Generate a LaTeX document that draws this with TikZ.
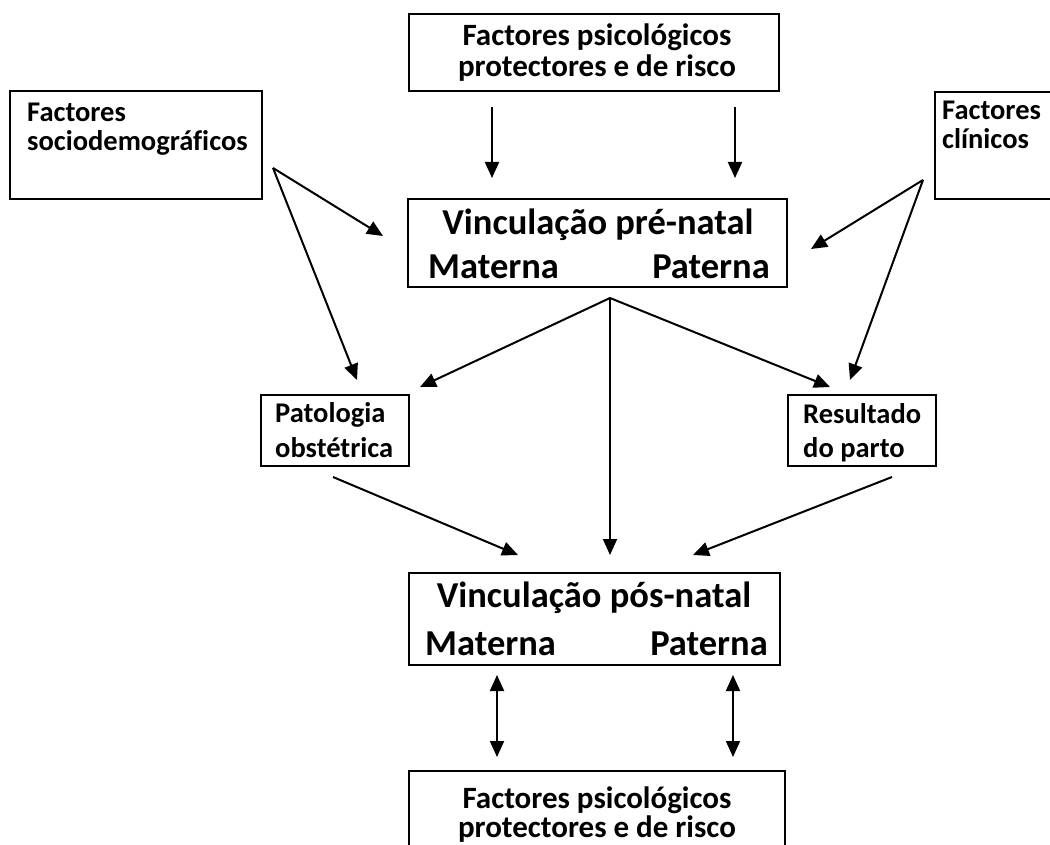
\documentclass[tikz,border=0pt]{standalone}
\usepackage{fontspec}
\setmainfont{Carlito}[Ligatures=NoCommon]
\usetikzlibrary{arrows.meta}
\tikzset{
  bigbox/.style={draw, line width=2pt, inner sep=0pt},
  smallbox/.style={draw, line width=1.5pt, inner sep=0pt},
  txt/.style={inner sep=0pt, font=\bfseries},
  midtxt/.style={txt, font=\bfseries\fontsize{31}{36}\selectfont},
  smtxt/.style={txt, font=\bfseries\fontsize{28.5}{33}\selectfont},
  bigtxt/.style={txt, font=\bfseries\fontsize{36.5}{44}\selectfont},
  arr/.style={line width=2pt, -{Triangle[length=16pt,width=14pt]}},
  darr/.style={line width=2pt, {Triangle[length=16pt,width=14pt]}-{Triangle[length=16pt,width=14pt]}}
}
\begin{document}
\begin{tikzpicture}[x=1pt,y=-1pt]
\useasboundingbox (0,0) rectangle (1050,845);
\clip (0,0) rectangle (1050,845);
% boxes
\node[bigbox, minimum width=370pt, minimum height=77pt] (top) at (594,53) {};
\node[bigbox, minimum width=252pt, minimum height=108pt] (socio) at (136,145) {};
\node[bigbox, minimum width=125pt, minimum height=107pt] (clin) at (997.5,145.5) {};
\node[bigbox, minimum width=379pt, minimum height=88pt] (pre) at (597.5,243) {};
\node[smallbox, minimum width=148pt, minimum height=71pt] (pat) at (335,430.5) {};
\node[smallbox, minimum width=148pt, minimum height=71pt] (res) at (862,430.5) {};
\node[bigbox, minimum width=371pt, minimum height=92pt] (pos) at (594.5,619) {};
\node[bigbox, minimum width=376pt, minimum height=90pt] (bot) at (597,816) {};
% texts
\node[midtxt, anchor=base] (topa) at (597,46) {Factores psicológicos};
\node[midtxt, anchor=base] (topb) at (597,77) {protectores e de risco};
\node[smtxt, anchor=base west] (socioa) at (27,122) {Factores};
\node[smtxt, anchor=base west] (sociob) at (27,151) {sociodemográficos};
\node[smtxt, anchor=base west] (clina) at (942,120) {Factores};
\node[smtxt, anchor=base west] (clinb) at (942,149) {clínicos};
\node[bigtxt, anchor=base] (prea) at (598,235) {Vinculação pré-natal};
\node[bigtxt, anchor=base west] (preb) at (428,279) {Materna};
\node[bigtxt, anchor=base east] (prec) at (770,279) {Paterna};
\node[smtxt, anchor=base west] (pata) at (275,422) {Patologia};
\node[smtxt, anchor=base west] (patb) at (275,457) {obstétrica};
\node[smtxt, anchor=base west] (resa) at (803,423) {Resultado};
\node[smtxt, anchor=base west] (resb) at (803,457) {do parto};
\node[bigtxt, anchor=base] (posa) at (594,607) {Vinculação pós-natal};
\node[bigtxt, anchor=base west] (posb) at (425,655) {Materna};
\node[bigtxt, anchor=base east] (posc) at (768,655) {Paterna};
\node[midtxt, anchor=base] (bota) at (597,808) {Factores psicológicos};
\node[midtxt, anchor=base] (botb) at (597,837) {protectores e de risco};
% connector points
\coordinate (t1s) at (492,107); \coordinate (t1e) at (492,178);
\coordinate (t2s) at (735,107); \coordinate (t2e) at (735,178);
\coordinate (S) at (273,168);
\coordinate (Spre) at (383,236); \coordinate (Spat) at (357,380);
\coordinate (C) at (923,180);
\coordinate (Cpre) at (811,249); \coordinate (Cres) at (850,380);
\coordinate (P) at (610,298);
\coordinate (Ppat) at (420,387); \coordinate (Pres) at (830,387); \coordinate (Ppos) at (610,555);
\coordinate (pats) at (333,477); \coordinate (pate) at (518,555);
\coordinate (ress) at (892,477); \coordinate (rese) at (693,555);
\coordinate (d1s) at (497,675); \coordinate (d1e) at (497,757);
\coordinate (d2s) at (733,675); \coordinate (d2e) at (733,757);
% connectors
\draw[arr] (t1s) -- (t1e);
\draw[arr] (t2s) -- (t2e);
\draw[arr] (S) -- (Spre);
\draw[arr] (S) -- (Spat);
\draw[arr] (C) -- (Cpre);
\draw[arr] (C) -- (Cres);
\draw[arr] (P) -- (Ppat);
\draw[arr] (P) -- (Pres);
\draw[arr] (P) -- (Ppos);
\draw[arr] (pats) -- (pate);
\draw[arr] (ress) -- (rese);
\draw[darr] (d1s) -- (d1e);
\draw[darr] (d2s) -- (d2e);
\end{tikzpicture}
\end{document}
